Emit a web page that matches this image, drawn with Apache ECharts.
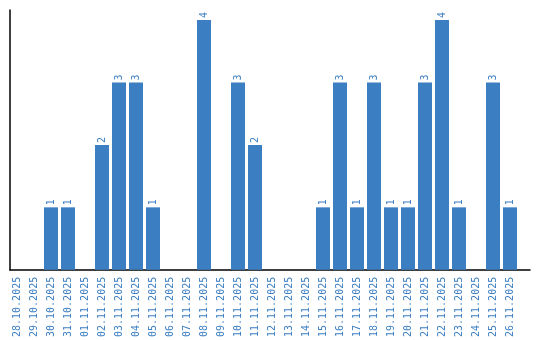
<!DOCTYPE html>
<html><head><meta charset="utf-8">
<script src="https://cdn.jsdelivr.net/npm/echarts@6/dist/echarts.min.js"></script>
<style>html,body{margin:0;padding:0;background:#fff}#c{width:540px;height:340px}</style>
</head><body><div id="c"></div>
<script>
const categories = ["28.10.2025","29.10.2025","30.10.2025","31.10.2025","01.11.2025","02.11.2025","03.11.2025","04.11.2025","05.11.2025","06.11.2025","07.11.2025","08.11.2025","09.11.2025","10.11.2025","11.11.2025","12.11.2025","13.11.2025","14.11.2025","15.11.2025","16.11.2025","17.11.2025","18.11.2025","19.11.2025","20.11.2025","21.11.2025","22.11.2025","23.11.2025","24.11.2025","25.11.2025","26.11.2025"];
const values = [0,0,1,1,0,2,3,3,1,0,0,4,0,3,2,0,0,0,1,3,1,3,1,1,3,4,1,0,3,1];
const blue = '#3b7ec2';
const chart = echarts.init(document.getElementById('c'), null, {renderer:'canvas'});
chart.setOption({
  animation:false,
  grid:[
    {left:8.5,right:21.5,top:10,bottom:70},
    {left:10,right:10,top:10,bottom:70}
  ],
  xAxis:[
    {type:'category',gridIndex:0,data:categories,axisLine:{show:false},axisTick:{show:false},
     axisLabel:{rotate:90,interval:0,color:blue,fontFamily:'DejaVu Sans Mono',fontSize:10,margin:7}},
    {type:'value',gridIndex:1,min:0,max:1,axisLine:{show:true,lineStyle:{color:'#000',width:1.5}},axisTick:{show:false},axisLabel:{show:false},splitLine:{show:false}}
  ],
  yAxis:[
    {type:'value',gridIndex:0,min:0,max:4.16,show:false},
    {type:'value',gridIndex:1,min:0,max:1,axisLine:{show:true,lineStyle:{color:'#000',width:1.5}},axisTick:{show:false},axisLabel:{show:false},splitLine:{show:false}}
  ],
  series:[{
    type:'bar',xAxisIndex:0,yAxisIndex:0,data:values,barWidth:14,
    itemStyle:{color:blue},
    label:{show:true,position:'top',rotate:90,align:'left',verticalAlign:'middle',distance:2,
      color:blue,fontFamily:'DejaVu Sans Mono',fontSize:10,
      formatter:p=>p.value>0?String(p.value):''}
  }]
});
</script></body></html>
